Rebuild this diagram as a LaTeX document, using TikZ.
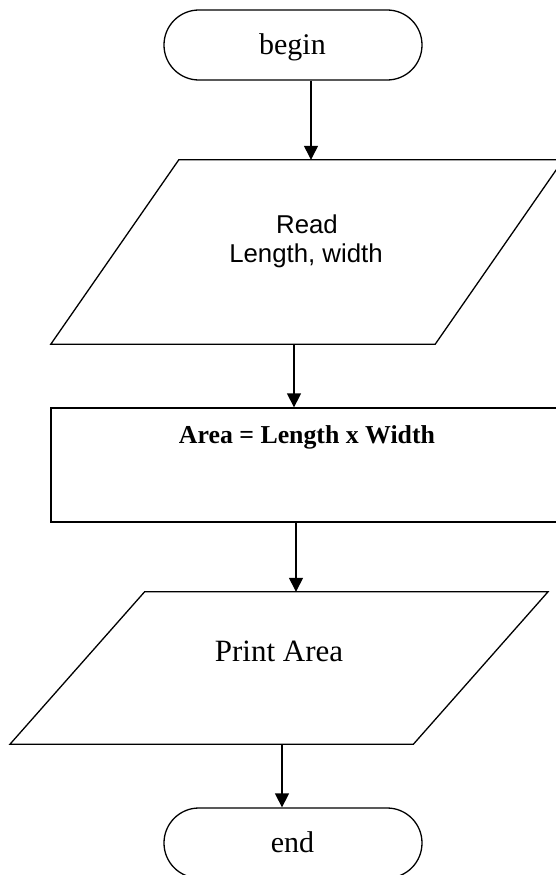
\documentclass[tikz,border=0pt]{standalone}
\usepackage{fontspec}
\setmainfont{Liberation Serif}
\newfontfamily\arialfont{Liberation Sans}
\usetikzlibrary{arrows.meta}
\tikzset{
  outline/.style={draw=black, line width=1.3pt, line join=miter},
  shapebox/.style={draw=none, inner sep=0pt},
  term/.style={outline, rectangle, rounded corners=34.9pt, minimum width=258pt, minimum height=70pt, inner sep=0pt},
  flow/.style={draw=black, line width=1.3pt, -{Triangle[length=14pt,width=14pt]}},
  termtext/.style={anchor=base, inner sep=0pt, font=\fontsize{30}{34}\selectfont},
  readtext/.style={anchor=base, inner sep=0pt, font=\arialfont\fontsize{25.8}{29}\selectfont},
  proctext/.style={anchor=base, inner sep=0pt, font=\bfseries\fontsize{25.8}{29}\selectfont},
  printtext/.style={anchor=base, inner sep=0pt, font=\fontsize{31}{36}\selectfont},
}
\begin{document}
\begin{tikzpicture}[x=1pt, y=-1pt]
\useasboundingbox (0,0) rectangle (556,875);
\fill[white] (0,0) rectangle (556,875);
\clip (0,0) rectangle (556,875);

% shapes (as nodes)
\node[term] (begin) at (293,45) {};
\node[shapebox, minimum width=384pt, minimum height=184pt] (read) at (307,252) {};
\node[outline, rectangle, minimum width=512pt, minimum height=114pt, inner sep=0pt] (proc) at (307,465) {};
\node[shapebox, minimum width=403pt, minimum height=152pt] (print) at (279,668) {};
\node[term] (end) at (293,843) {};

% parallelograms drawn from their nodes' anchors
\draw[outline] ([xshift=64pt]read.north west) -- ([xshift=64pt]read.north east)
  -- ([xshift=-64pt]read.south east) -- ([xshift=-64pt]read.south west) -- cycle;
\draw[outline] ([xshift=67.3pt]print.north west) -- ([xshift=67.3pt]print.north east)
  -- ([xshift=-67.3pt]print.south east) -- ([xshift=-67.3pt]print.south west) -- cycle;

% texts
\node[termtext] (begintext) at (292.5,55) {begin};
\node[readtext] (readtext1) at (307,233) {Read};
\node[readtext] (readtext2) at (306,262) {Length, width};
\node[proctext] (proctext) at (307,443) {Area = Length x Width};
\node[printtext] (printtext) at (279,661) {Print Area};
\node[termtext] (endtext) at (292.5,852) {end};

% connectors
\draw[flow] ([xshift=18pt]begin.south) -- ([xshift=4pt]read.north);
\draw[flow] ([xshift=-13pt]read.south) -- ([xshift=-13pt]proc.north);
\draw[flow] ([xshift=-11pt]proc.south) -- ([xshift=17pt]print.north);
\draw[flow] ([xshift=3pt]print.south) -- ([xshift=-11pt]end.north);
\end{tikzpicture}
\end{document}
